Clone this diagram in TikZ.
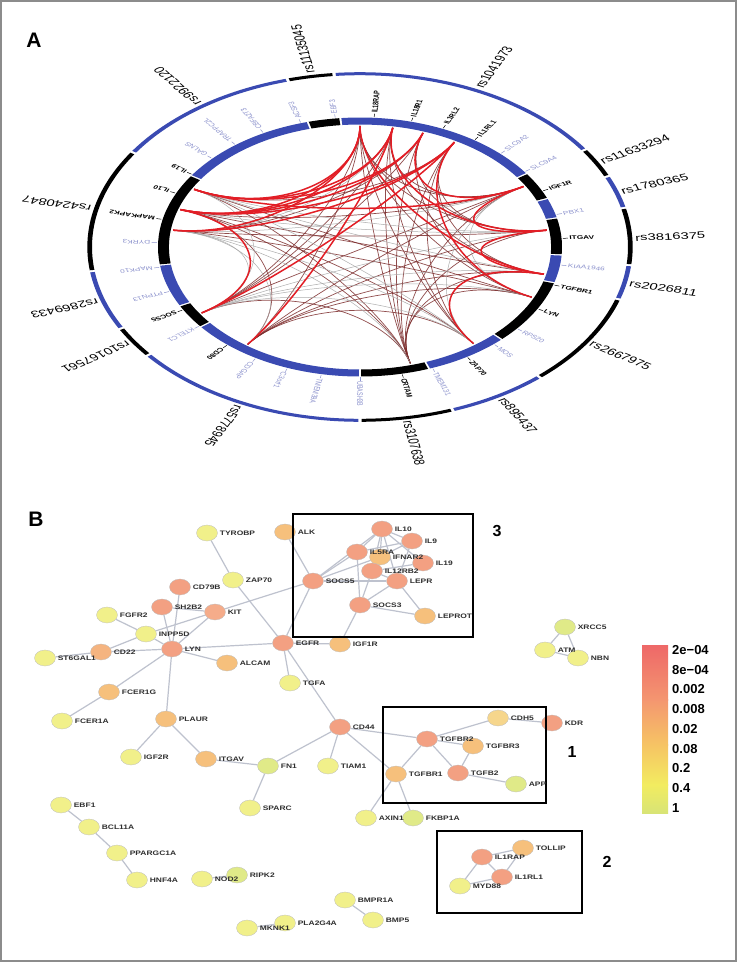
\documentclass[tikz,border=0pt]{standalone}
\usepackage{fontspec}
\setmainfont{Liberation Sans}
\newfontfamily\netfont[FakeStretch=1.3]{Liberation Sans Bold}
\usetikzlibrary{shapes.geometric}
\pgfdeclarelayer{bg}
\pgfdeclarelayer{paper}
\pgfdeclarelayer{nodel}
\pgfsetlayers{paper,bg,nodel,main}
\definecolor{ringblue}{RGB}{58,74,178}
\definecolor{lightlab}{RGB}{140,146,205}
\definecolor{cS}{RGB}{243,160,130}
\definecolor{cS2}{RGB}{245,172,138}
\definecolor{cO}{RGB}{246,192,124}
\definecolor{cO2}{RGB}{245,180,128}
\definecolor{cO3}{RGB}{246,214,140}
\definecolor{cY}{RGB}{241,240,138}
\definecolor{cG}{RGB}{224,234,136}
\definecolor{edgec}{RGB}{190,194,206}
\definecolor{chred}{RGB}{226,30,38}
\definecolor{chdark}{RGB}{125,45,45}
\definecolor{chgray}{RGB}{165,165,165}
\definecolor{barA}{RGB}{238,104,104}
\definecolor{barB}{RGB}{244,150,112}
\definecolor{barC}{RGB}{246,196,100}
\definecolor{barD}{RGB}{242,236,96}
\definecolor{barE}{RGB}{216,228,118}
\newcommand\gn[5]{\begin{pgfonlayer}{nodel}\node[gnode, fill=#5] (#1) at (#2,-#3) {};\end{pgfonlayer}%
  \node[glab] (l#1) at ([xshift=1pt]#1.east) {#4};}
\begin{document}
\begin{tikzpicture}[x=1pt,y=1pt,
  olab/.style={font=\fontsize{9.5}{10}\selectfont, inner sep=0pt, anchor=west},
  iblk/.style={font=\bfseries\fontsize{5.3}{6}\selectfont, inner sep=0pt, anchor=west},
  ilgt/.style={font=\fontsize{5.3}{6}\selectfont, text=lightlab, inner sep=0pt, anchor=west},
  chr/.style={draw=chred, line width=1.5pt},
  chk/.style={draw=chdark, line width=0.7pt, opacity=0.85},
  chg/.style={draw=chgray, line width=0.5pt, opacity=0.9},
  gnode/.style={ellipse, minimum width=21pt, minimum height=16pt, inner sep=0pt, draw=black!25, line width=0.3pt},
  glab/.style={font=\netfont\fontsize{6.5}{7}\selectfont, text=black!82, inner sep=1pt, anchor=west},
  edge/.style={draw=edgec, line width=1.2pt},
  boxst/.style={draw=black, line width=1.8pt},
  numlab/.style={font=\bfseries\fontsize{16}{18}\selectfont},
  leglab/.style={font=\bfseries\fontsize{13}{14}\selectfont, anchor=west, inner sep=0pt},
  panlab/.style={font=\bfseries\fontsize{21}{24}\selectfont}]
\useasboundingbox (0,0) rectangle (737,-962);
\begin{pgfonlayer}{paper}
\fill[white] (0,0) rectangle (737,-962);
\end{pgfonlayer}
\draw[black!45, line width=1.2pt] (1,-1) rectangle (736,-961);

\node[panlab] (pA) at (34,-40) {A};
\node[panlab] (pB) at (36,-519) {B};

% ---------------- panel A ----------------
\begin{scope}[shift={(360,-247)}, xscale=1.56, transform shape]
  % chords
  \foreach \p/\q in {90/30, 90/8, 90/-24.5, 90/-53, 90/-126.5, 90/-147, 80/30, 80/-13, 80/-53, 80/-74.5, 80/-147,
     70.5/8, 70.5/-24.5, 70.5/-74.5, 70.5/-147, 70.5/172, 60/8, 60/-13, 60/-53, 60/-74.5, 60/151.5,
     30/-74.5, 30/-147, 30/162, 8/-74.5, 8/-126.5, 8/172, -13/-74.5, -13/-126.5, -13/162,
     -24.5/-74.5, -24.5/-126.5, -24.5/172, -24.5/151.5, -53/-126.5, -53/162, -74.5/-147, -74.5/162,
     -74.5/151.5, -126.5/162, -126.5/30, 90/-74.5}
     \draw[chk] (\p:121) .. controls (\p:65) and (\q:65) .. (\q:121);
  \foreach \p/\q in {30/-24.5, 30/-53, 8/-147, 8/162, -13/-147, -13/151.5, -24.5/-147, -53/-147, -53/172,
     -53/151.5, -126.5/172, -147/172, -147/151.5, 30/172, 8/151.5, -74.5/172, 80/172}
     \draw[chg] (\p:121) .. controls (\p:65) and (\q:65) .. (\q:121);
  \foreach \p/\q in {90/151.5, 90/162, 90/172, 80/151.5, 80/162, 70.5/162, 70.5/151.5, 60/162, 60/172,
     80/8, 70.5/30, 30/8, 8/-13, 90/-13, -13/-53, 60/-147, 80/-126.5, 60/-24.5, 151.5/30, 162/-147}
     \draw[chr] (\p:121) .. controls (\p:65) and (\q:65) .. (\q:121);
  % outer ring
  \foreach \a/\b/\c in {95.5/105.5/black, 34/95.5/ringblue, 24/34/black, 13/24/ringblue, -6/13/black,
     -17.5/-6/ringblue, -48.5/-17.5/black, -70/-48.5/ringblue, -90/-70/black, -141.5/-90/ringblue,
     -152/-141.5/black, -172/-152/ringblue, 147/188/black, 105.5/147/ringblue} {
    \pgfmathsetmacro\aa{\a+0.35}\pgfmathsetmacro\bb{\b-0.35}
    \fill[\c] (\aa:171.8) arc[start angle=\aa, end angle=\bb, radius=171.8] -- (\bb:174.8)
      arc[start angle=\bb, end angle=\aa, radius=174.8] -- cycle;
  }
  % inner ring
  \foreach \a/\b/\c in {95.6/105/black, 34.5/95.6/ringblue, 22/34.5/black, 13/22/ringblue, -3.5/13/black,
     -16/-3.5/ringblue, -45.5/-16/black, -70/-45.5/ringblue, -90/-70/black, -142/-90/ringblue,
     -153/-142/black, -172/-153/ringblue, 146.6/188/black, 105/146.6/ringblue} {
    \pgfmathsetmacro\aa{\a+0.3}\pgfmathsetmacro\bb{\b-0.3}
    \fill[\c] (\aa:122.5) arc[start angle=\aa, end angle=\bb, radius=122.5] -- (\bb:129.5)
      arc[start angle=\bb, end angle=\aa, radius=129.5] -- cycle;
  }
  % outer labels
  \foreach \a/\t [count=\i] in {100.5/rs11135045, 64.5/rs1041973, 29/rs11633294, 18.5/rs1780365,
     3/rs3816375, -12/rs2026811, -33/rs2667975, -59/rs895437, -80/rs3107638, -116/rs5778945,
     -147/rs10167561, -162/rs2869433, 167.5/rs4240847, 126/rs9922120}
    \node[olab, rotate=\a] (o\i) at (\a:176.5) {\t};
  % inner labels (network genes)
  \foreach \a/\t [count=\i] in {146/IL19, 155.5/IL10, 167.7/MAPKAPK2, 209/SOCS5, 229/CD80, 282/CRTAM,
     302/ZAP70, 331.5/LYN, 343/TGFBR1, 3.8/ITGAV, 25.6/IGF1R, 55.5/IL1RL1, 65.8/IL1RL2, 75.3/IL18R1, 86/IL18RAP} {
    \draw[line width=0.5pt] (\a:130.3) -- (\a:133.6);
    \node[iblk, rotate=\a] (gb\i) at (\a:134.4) {\t};
  }
  % inner labels (other genes)
  \foreach \a/\t [count=\i] in {97/EBF3, 107/ACSF3, 118.5/CBFA2T3, 128/TRAPPC2L, 137/GALNS, 178/DYRK3,
     189/MAPK10, 200/PTPN13, 217.5/KTELC1, 239/CDGAP, 249/C3orf1, 259/TMEM39A, 270/UBASH3B,
     291/TMEM131, 311.5/MOS, 321/RPS20, 352/KIAA1946, 14.5/PBX1, 35.5/SLC9A4, 46/SLC9A2} {
    \draw[lightlab, line width=0.5pt] (\a:130.3) -- (\a:133.6);
    \node[ilgt, rotate=\a] (gl\i) at (\a:134.4) {\t};
  }
\end{scope}

% ---------------- panel B ----------------
\draw[boxst] (293,-514) rectangle (473,-637);
\draw[boxst] (383,-707) rectangle (546,-803);
\draw[boxst] (437,-831) rectangle (582,-913);
\node[numlab] (b3) at (497,-531) {3};
\node[numlab] (b1) at (572,-752) {1};
\node[numlab] (b2) at (607,-862) {2};

\gn{nTYROBP}{207}{533}{TYROBP}{cY}
\gn{nALK}{285}{532}{ALK}{cO}
\gn{nZAP70}{233}{580}{ZAP70}{cY}
\gn{nCD79B}{180}{587}{CD79B}{cS}
\gn{nSH2B2}{162}{607}{SH2B2}{cS}
\gn{nKIT}{215}{612}{KIT}{cS2}
\gn{nFGFR2}{107}{615}{FGFR2}{cY}
\gn{nINPP5D}{146}{634}{INPP5D}{cY}
\gn{nST6GAL1}{45}{658}{ST6GAL1}{cY}
\gn{nCD22}{101}{652}{CD22}{cO2}
\gn{nLYN}{172}{649}{LYN}{cS}
\gn{nALCAM}{227}{663}{ALCAM}{cO}
\gn{nEGFR}{283}{643}{EGFR}{cS}
\gn{nFCER1G}{109}{692}{FCER1G}{cO}
\gn{nFCER1A}{62}{721}{FCER1A}{cY}
\gn{nPLAUR}{166}{719}{PLAUR}{cO}
\gn{nIGF2R}{131}{757}{IGF2R}{cY}
\gn{nITGAV}{206}{759}{ITGAV}{cO}
\gn{nFN1}{268}{766}{FN1}{cG}
\gn{nSPARC}{250}{808}{SPARC}{cY}
\gn{nTGFA}{290}{683}{TGFA}{cY}
\gn{nIGF1R}{340}{644}{IGF1R}{cO}
\gn{nIL10}{382}{529}{IL10}{cS}
\gn{nIL9}{412}{541}{IL9}{cS}
\gn{nIFNAR2}{380}{557}{IFNAR2}{cO}
\gn{nIL5RA}{357}{552}{IL5RA}{cS}
\gn{nIL19}{423}{563}{IL19}{cS}
\gn{nIL12RB2}{372}{571}{IL12RB2}{cS}
\gn{nSOCS5}{313}{581}{SOCS5}{cS}
\gn{nLEPR}{397}{581}{LEPR}{cS}
\gn{nSOCS3}{360}{605}{SOCS3}{cS}
\gn{nLEPROT}{425}{616}{LEPROT}{cO}
\gn{nCD44}{340}{727}{CD44}{cS}
\gn{nTIAM1}{328}{766}{TIAM1}{cY}
\gn{nTGFBR2}{427}{739}{TGFBR2}{cS}
\gn{nTGFBR3}{473}{746}{TGFBR3}{cO}
\gn{nCDH5}{498}{718}{CDH5}{cO3}
\gn{nKDR}{552}{723}{KDR}{cS}
\gn{nTGFBR1}{396}{774}{TGFBR1}{cO}
\gn{nTGFB2}{458}{773}{TGFB2}{cS}
\gn{nAPP}{516}{784}{APP}{cG}
\gn{nAXIN1}{366}{818}{AXIN1}{cY}
\gn{nFKBP1A}{413}{818}{FKBP1A}{cG}
\gn{nXRCC5}{565}{627}{XRCC5}{cG}
\gn{nATM}{545}{650}{ATM}{cY}
\gn{nNBN}{578}{658}{NBN}{cY}
\gn{nEBF1}{61}{805}{EBF1}{cY}
\gn{nBCL11A}{89}{827}{BCL11A}{cY}
\gn{nPPARGC1A}{117}{853}{PPARGC1A}{cY}
\gn{nHNF4A}{137}{880}{HNF4A}{cY}
\gn{nNOD2}{202}{879}{NOD2}{cY}
\gn{nRIPK2}{237}{875}{RIPK2}{cG}
\gn{nMKNK1}{247}{928}{MKNK1}{cY}
\gn{nPLA2G4A}{285}{923}{PLA2G4A}{cY}
\gn{nBMPR1A}{345}{900}{BMPR1A}{cY}
\gn{nBMP5}{373}{920}{BMP5}{cY}
\gn{nIL1RAP}{482}{857}{IL1RAP}{cS}
\gn{nTOLLIP}{523}{848}{TOLLIP}{cO}
\gn{nIL1RL1}{502}{877}{IL1RL1}{cS}
\gn{nMYD88}{460}{886}{MYD88}{cY}

\begin{pgfonlayer}{bg}
\foreach \a/\b in {nTYROBP/nZAP70, nZAP70/nEGFR, nCD79B/nLYN, nSH2B2/nLYN, nSH2B2/nKIT, nKIT/nLYN,
   nKIT/nINPP5D, nKIT/nSOCS5, nFGFR2/nINPP5D, nINPP5D/nLYN, nINPP5D/nCD22, nCD22/nLYN, nST6GAL1/nCD22,
   nLYN/nALCAM, nLYN/nEGFR, nLYN/nFCER1G, nLYN/nPLAUR, nFCER1G/nFCER1A, nPLAUR/nIGF2R, nPLAUR/nITGAV,
   nITGAV/nFN1, nFN1/nSPARC, nFN1/nCD44, nEGFR/nSOCS5, nEGFR/nIGF1R, nEGFR/nTGFA, nEGFR/nCD44,
   nALK/nSOCS5, nSOCS5/nIL5RA, nSOCS5/nIL10, nSOCS5/nLEPR, nSOCS5/nIFNAR2, nSOCS3/nIGF1R,
   nSOCS3/nIL12RB2, nSOCS3/nIL5RA, nSOCS3/nLEPR, nSOCS3/nLEPROT, nLEPR/nLEPROT, nLEPR/nIL12RB2,
   nLEPR/nIL9, nLEPR/nIL10, nIL10/nIL5RA, nIL10/nIL9, nIL10/nIFNAR2, nIL10/nIL12RB2, nIL9/nIL5RA,
   nIL9/nIFNAR2, nIL19/nIL12RB2, nIL19/nIL10,
   nCD44/nTIAM1, nCD44/nTGFBR2, nCD44/nTGFBR1, nTGFBR2/nCDH5, nTGFBR2/nTGFBR3, nTGFBR2/nTGFBR1,
   nTGFBR2/nTGFB2, nTGFBR3/nTGFB2, nTGFB2/nAPP, nTGFBR1/nAXIN1, nTGFBR1/nFKBP1A, nCDH5/nKDR,
   nXRCC5/nATM, nXRCC5/nNBN, nATM/nNBN, nEBF1/nBCL11A, nBCL11A/nPPARGC1A, nPPARGC1A/nHNF4A,
   nNOD2/nRIPK2, nMKNK1/nPLA2G4A, nBMPR1A/nBMP5, nIL1RAP/nTOLLIP, nIL1RAP/nIL1RL1, nIL1RAP/nMYD88,
   nTOLLIP/nIL1RL1, nMYD88/nIL1RL1}
  \draw[edge] (\a) -- (\b);
\end{pgfonlayer}

% legend
\shade[top color=barA, bottom color=barB] (642,-645) rectangle (668,-700);
\shade[top color=barB, bottom color=barC] (642,-699.5) rectangle (668,-745);
\shade[top color=barC, bottom color=barD] (642,-744.5) rectangle (668,-785);
\shade[top color=barD, bottom color=barE] (642,-784.5) rectangle (668,-813);
\foreach \t [count=\i] in {2e−04, 8e−04, 0.002, 0.008, 0.02, 0.08, 0.2, 0.4, 1}
  \node[leglab] (leg\i) at (672,{-650-19.75*(\i-1)}) {\t};
\end{tikzpicture}
\end{document}
